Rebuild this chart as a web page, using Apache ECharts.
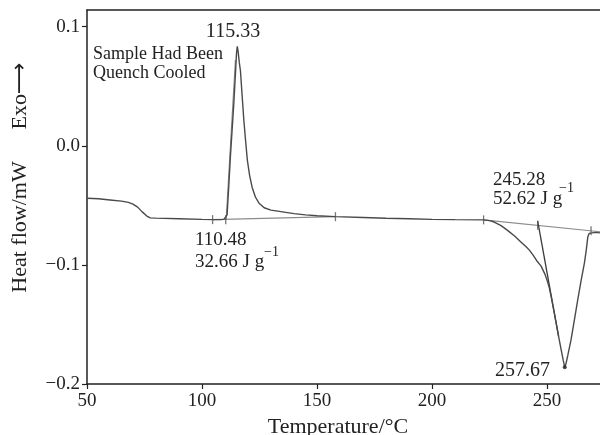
<!DOCTYPE html>
<html>
<head>
<meta charset="utf-8">
<script src="https://cdn.jsdelivr.net/npm/echarts@6/dist/echarts.min.js"></script>
<style>html,body{margin:0;padding:0;background:#fff}#c{width:600px;height:435px}</style>
</head>
<body>
<div id="c"></div>
<script>
// ---- data ----
const xTicks = [50, 100, 150, 200, 250];
const yTicks = [-0.2, -0.1, 0.0, 0.1];

// DSC trace: temperature (°C) and heat flow (mW)
const curveT = [50, 55, 60, 65, 68, 70, 72, 74, 76, 77.5, 80, 90, 100, 105, 108, 109.5, 110.3, 110.9, 111.6, 112.4, 113.1, 113.8, 114.6, 115.0, 115.33, 115.7, 116.2, 116.7, 117.4, 118.2, 119.0, 119.7, 120.7, 121.8, 123.2, 124.7, 127, 130, 135, 140, 145, 150, 158, 170, 180, 190, 200, 210, 222.4, 225, 227, 230, 232.8, 236, 238.6, 241, 242.3, 244, 245.5, 247.4, 249, 250, 251, 252, 253, 254, 255, 256, 257, 257.67, 258.2, 259, 260.4, 261.8, 263.3, 264.8, 266.2, 267, 267.7, 268.3, 269.1, 271, 273];
const curveHF = [-0.0440, -0.0445, -0.0455, -0.0465, -0.0475, -0.0490, -0.0515, -0.0555, -0.0590, -0.0605, -0.0607, -0.0612, -0.0618, -0.0620, -0.0620, -0.0618, -0.0610, -0.0580, -0.0350, -0.0070, 0.0140, 0.0350, 0.0630, 0.0780, 0.0835, 0.0790, 0.0700, 0.0630, 0.0430, 0.0210, 0.0030, -0.0120, -0.0250, -0.0350, -0.0430, -0.0480, -0.0520, -0.0540, -0.0555, -0.0570, -0.0580, -0.0588, -0.0595, -0.0602, -0.0608, -0.0613, -0.0618, -0.0620, -0.0622, -0.0628, -0.0640, -0.0670, -0.0710, -0.0760, -0.0807, -0.0850, -0.0876, -0.0920, -0.0965, -0.1010, -0.1075, -0.1130, -0.1195, -0.1290, -0.1390, -0.1495, -0.1600, -0.1700, -0.1800, -0.1860, -0.1830, -0.1760, -0.1630, -0.1470, -0.1295, -0.1130, -0.0987, -0.0880, -0.0765, -0.0735, -0.0723, -0.0727, -0.0731];

// construction baselines and tangents
const baseCrystT = [104.6, 158];
const baseCrystHF = [-0.0620, -0.0595];
const baseMeltT = [222.4, 273];
const baseMeltHF = [-0.0622, -0.0722];
const tanCrystT = [110.48, 114.5];
const tanCrystHF = [-0.0622, 0.0720];
const tanMeltT = [245.9, 255.0];
const tanMeltHF = [-0.0630, -0.1600];
// limit marks on the baselines
const markT = [104.6, 110.3, 158, 222.4, 245.9, 269.1];
const markHF = [-0.0620, -0.0621, -0.0595, -0.0622, -0.0667, -0.0714];

// annotation texts
const peakLabel = '115.33';
const noteLines = ['Sample Had Been', 'Quench Cooled'];
const crystOnset = '110.48';
const crystEnthalpy = '32.66 J g';
const meltOnset = '245.28';
const meltEnthalpy = '52.62 J g';
const meltPeak = '257.67';
const supText = '\u22121';

const zip = (a, b) => a.map((v, i) => [v, b[i]]);
const FONT = '"Liberation Serif", "DejaVu Serif", serif';
const TXT = '#222';

const chart = echarts.init(document.getElementById('c'), null, {renderer: 'canvas'});

function txt(x, y, s, size, align) {
  return {type: 'text', x: x, y: y, style: {text: s, font: size + 'px ' + FONT, fill: TXT, textAlign: align || 'left', textVerticalAlign: 'middle'}, z: 100};
}

const minHF = Math.min(...curveHF);
const option = {
  animation: false,
  grid: {left: 87, right: 0, top: 10, bottom: 51},
  xAxis: [{
    type: 'value', min: 50, max: 273, interval: 50,
    axisLine: {show: true, onZero: false, lineStyle: {color: '#222', width: 1.5}},
    axisTick: {show: true, length: 5, inside: false, customValues: xTicks, lineStyle: {color: '#222', width: 1.2}},
    axisLabel: {show: true, customValues: xTicks, fontFamily: FONT, fontSize: 19, color: TXT, margin: 8},
    splitLine: {show: false}
  }, {
    type: 'value', position: 'top', min: 50, max: 273,
    axisLine: {show: true, onZero: false, lineStyle: {color: '#222', width: 1.5}},
    axisTick: {show: false}, axisLabel: {show: false}, splitLine: {show: false}
  }],
  yAxis: {
    type: 'value', min: -0.2, max: 0.114, interval: 0.1,
    axisLine: {show: true, onZero: false, lineStyle: {color: '#222', width: 1.5}},
    axisTick: {show: true, length: 5, customValues: yTicks, lineStyle: {color: '#222', width: 1.2}},
    axisLabel: {show: true, customValues: yTicks, fontFamily: FONT, fontSize: 19, color: TXT, margin: 7,
      formatter: v => v.toFixed(1).replace('-', '\u2212')},
    splitLine: {show: false}
  },
  series: [
    {type: 'line', data: zip(curveT, curveHF), showSymbol: false, lineStyle: {color: '#4a4a4a', width: 1.4}, z: 5},
    {type: 'line', data: zip(baseCrystT, baseCrystHF), showSymbol: false, lineStyle: {color: '#8c8c8c', width: 1.1}, z: 4},
    {type: 'line', data: zip(baseMeltT, baseMeltHF), showSymbol: false, lineStyle: {color: '#8c8c8c', width: 1.1}, z: 4},
    {type: 'line', data: zip(tanCrystT, tanCrystHF), showSymbol: false, lineStyle: {color: '#8c8c8c', width: 1.1}, z: 4},
    {type: 'line', data: zip(tanMeltT, tanMeltHF), showSymbol: false, lineStyle: {color: '#3a3a3a', width: 1.3}, z: 4},
    {type: 'scatter', data: zip(markT, markHF), symbol: 'rect', symbolSize: [1.3, 9], itemStyle: {color: '#555'}, z: 6},
    {type: 'scatter', data: [[curveT[curveHF.indexOf(minHF)], minHF]], symbol: 'circle', symbolSize: 4, itemStyle: {color: '#222'}, z: 7}
  ],
  graphic: [
    txt(233, 32, peakLabel, 20, 'center'),
    txt(93, 54, noteLines[0], 18),
    txt(93, 73, noteLines[1], 18),
    txt(195, 240, crystOnset, 19),
    txt(195, 262, crystEnthalpy, 19),
    txt(264, 252, supText, 14),
    txt(493, 180, meltOnset, 19),
    txt(493, 199, meltEnthalpy, 19),
    txt(559, 188, supText, 14),
    txt(495, 371, meltPeak, 20),
    txt(338, 427, 'Temperature/\u00B0C', 22, 'center'),
    {type: 'text', x: 20, y: 227, rotation: Math.PI / 2, style: {text: 'Heat flow/mW', font: '22px ' + FONT, fill: TXT, textAlign: 'center', textVerticalAlign: 'middle'}},
    {type: 'text', x: 20, y: 96, rotation: Math.PI / 2, style: {text: 'Exo\u27F6', font: '22px "Liberation Serif", "DejaVu Sans", serif', fill: TXT, textAlign: 'center', textVerticalAlign: 'middle'}}
  ]
};
chart.setOption(option);
</script>
</body>
</html>
